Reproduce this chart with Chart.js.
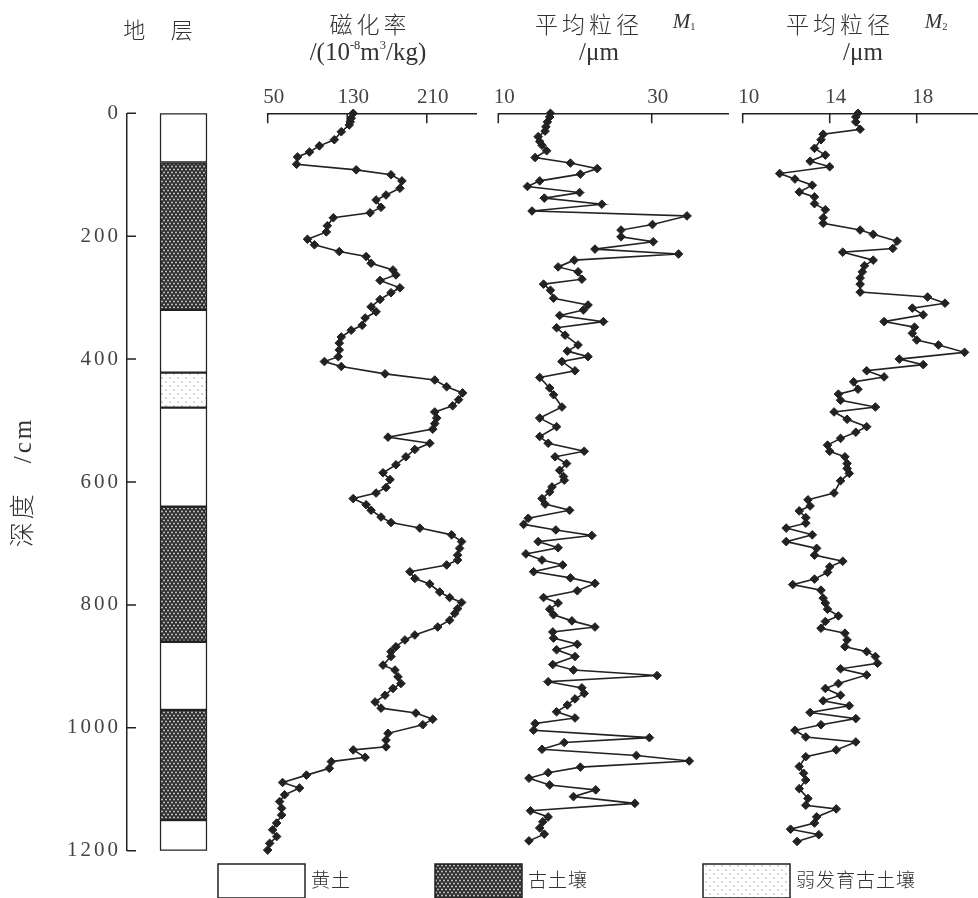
<!DOCTYPE html>
<html>
<head>
<meta charset="utf-8">
<script src="https://cdn.jsdelivr.net/npm/chart.js@4.4.1/dist/chart.umd.min.js"></script>
<style>
  body { margin: 0; width: 978px; height: 898px; overflow: hidden; background: #fff; }
  #wrap { position: relative; width: 978px; height: 898px; }
  canvas { position: absolute; left: 0; top: 0; }
  .hd { position: absolute; transform: translate(-50%, -50%); white-space: nowrap; color: #333;
        font-family: 'Liberation Serif', 'Noto Sans CJK SC', serif; font-weight: 300; }
  .hd sup { font-size: 0.5em; vertical-align: 0.9em; line-height: 0; }
  .hd sub { font-size: 0.5em; vertical-align: -0.2em; line-height: 0; }
</style>
</head>
<body>
<div id="wrap">
  <canvas id="strat" width="990" height="898"></canvas>
  <canvas id="mag" width="990" height="898"></canvas>
  <canvas id="m1" width="990" height="898"></canvas>
  <canvas id="m2" width="990" height="898"></canvas>

  <div class="hd" style="left:163px;top:28px;font-size:22px;letter-spacing:10px">地 层</div>
  <div class="hd" style="left:370px;top:23px;font-size:23px;letter-spacing:4px">磁化率</div>
  <div class="hd" style="left:368px;top:52px;font-size:25px">/(10<sup>-8</sup>m<sup>3</sup>/kg)</div>
  <div class="hd" style="left:589px;top:23px;font-size:23px;letter-spacing:4px">平均粒径</div>
  <div class="hd" style="left:684px;top:21px;font-size:21px"><i>M</i><sub>1</sub></div>
  <div class="hd" style="left:599px;top:52px;font-size:25px">/μm</div>
  <div class="hd" style="left:840px;top:23px;font-size:23px;letter-spacing:4px">平均粒径</div>
  <div class="hd" style="left:936px;top:21px;font-size:21px"><i>M</i><sub>2</sub></div>
  <div class="hd" style="left:863px;top:52px;font-size:25px">/μm</div>
</div>
<script>
// depth axis
const depthTicks = [0, 200, 400, 600, 800, 1000, 1200];

// stratigraphic column (cm)
const layerTops    = [0, 80, 320, 422, 479, 640, 860, 971, 1150];
const layerBottoms = [80, 320, 422, 479, 640, 860, 971, 1150, 1200];
const layerTypes   = ['loess', 'paleosol', 'loess', 'weak', 'loess', 'paleosol', 'loess', 'paleosol', 'loess'];
const legendTypes  = ['loess', 'paleosol', 'weak'];
const legendLabels = ['黄土', '古土壤', '弱发育古土壤'];

// magnetic susceptibility (10^-8 m3/kg)
const magTicks = [50, 130, 210];
const magDepth = [0, 8, 14, 19, 30, 43, 53, 63, 71, 83, 92, 100, 110, 122, 133, 141, 153, 162, 170, 183,
  193, 205, 214, 225, 233, 244, 255, 263, 272, 284, 292, 303, 315, 323, 333, 345, 353, 364, 374, 385,
  396, 404, 412, 424, 434, 445, 455, 466, 476, 486, 496, 505, 514, 527, 537, 547, 559, 572, 585, 596,
  609, 618, 627, 637, 646, 657, 666, 675, 686, 697, 708, 719, 727, 735, 746, 757, 766, 779, 788, 796,
  806, 814, 825, 836, 849, 857, 868, 876, 884, 898, 906, 917, 928, 936, 947, 958, 968, 976, 986, 995,
  1009, 1020, 1031, 1036, 1048, 1055, 1066, 1077, 1089, 1098, 1109, 1120, 1131, 1142, 1155, 1166, 1177, 1188, 1199];
const magValues = [136, 134, 133, 132, 124, 117, 102, 92, 80, 79, 139, 174, 185, 183, 169, 159, 164, 153, 116, 110,
  109, 90, 97, 122, 149, 154, 176, 179, 163, 183, 174, 163, 154, 159, 148, 145, 134, 124, 122, 122,
  121, 107, 124, 168, 218, 230, 246, 242, 236, 218, 220, 218, 216, 171, 213, 198, 189, 179, 166, 173,
  169, 159, 136, 149, 154, 164, 174, 203, 235, 245, 243, 241, 241, 230, 193, 198, 213, 223, 233, 245,
  241, 238, 233, 221, 198, 188, 179, 174, 174, 166, 178, 181, 184, 176, 168, 158, 164, 199, 216, 206,
  171, 169, 169, 136, 148, 114, 112, 89, 65, 82, 67, 62, 64, 64, 59, 55, 59, 52, 50];

// mean grain size M1 (um)
const m1Ticks = [10, 30];
const m1Depth = [0, 6, 14, 22, 29, 38, 46, 52, 61, 72, 81, 90, 99, 110, 119, 129, 138, 148, 159, 167,
  181, 190, 201, 209, 221, 229, 239, 250, 258, 270, 278, 288, 301, 312, 320, 329, 339, 349, 361, 377,
  387, 396, 404, 419, 430, 447, 458, 478, 496, 510, 526, 537, 550, 559, 570, 581, 591, 597, 608, 616,
  627, 636, 646, 659, 669, 678, 687, 697, 707, 717, 727, 735, 746, 756, 765, 777, 788, 797, 807, 816,
  826, 836, 844, 854, 864, 873, 884, 897, 906, 915, 925, 935, 944, 953, 963, 974, 984, 993, 1004, 1016,
  1024, 1035, 1045, 1054, 1064, 1073, 1082, 1093, 1101, 1112, 1123, 1135, 1145, 1153, 1163, 1173, 1184];
const m1Values = [16.8, 16.7, 16.4, 16.2, 16.1, 15.2, 15.4, 15.7, 16.3, 14.8, 19.4, 22.9, 20.7, 15.4, 13.8, 20.6, 16.0, 23.5, 14.4, 34.6,
  30.1, 26.0, 26.0, 30.2, 22.6, 33.5, 19.9, 17.8, 20.4, 20.9, 15.9, 16.8, 17.2, 21.7, 21.1, 18.0, 23.7, 17.6, 18.7, 20.4,
  19.0, 21.7, 18.3, 20.0, 15.4, 16.7, 17.2, 18.3, 15.4, 17.6, 15.4, 16.5, 21.2, 17.4, 18.9, 18.0, 18.5, 18.6, 17.0, 16.7,
  15.7, 16.1, 19.3, 13.9, 13.3, 17.5, 22.2, 15.2, 17.8, 13.6, 15.7, 18.4, 14.6, 19.4, 22.6, 20.3, 15.9, 17.8, 16.7, 17.2,
  19.6, 22.6, 17.1, 17.2, 20.3, 17.6, 20.0, 17.1, 19.8, 30.7, 16.5, 20.9, 21.2, 20.0, 19.0, 17.6, 20.0, 14.8, 14.6, 29.7,
  18.6, 15.7, 28.0, 34.9, 20.7, 16.5, 14.0, 16.7, 22.7, 19.8, 27.8, 14.2, 16.5, 15.8, 15.4, 16.0, 14.0];

// mean grain size M2 (um)
const m2Ticks = [10, 14, 18];
const m2Depth = [0, 6, 14, 26, 34, 43, 57, 68, 78, 87, 98, 107, 117, 128, 136, 147, 157, 170, 179, 190,
  197, 208, 220, 226, 239, 248, 258, 268, 278, 291, 299, 309, 317, 328, 339, 348, 358, 369, 377, 389,
  400, 409, 419, 429, 437, 449, 457, 467, 478, 486, 498, 510, 519, 529, 540, 550, 559, 570, 578, 586,
  598, 618, 629, 639, 647, 658, 667, 675, 686, 697, 708, 719, 729, 738, 747, 758, 767, 776, 789, 797,
  807, 818, 827, 838, 846, 857, 868, 876, 884, 895, 904, 914, 928, 936, 947, 956, 964, 975, 985, 995,
  1004, 1015, 1023, 1036, 1047, 1063, 1074, 1085, 1099, 1115, 1126, 1132, 1145, 1155, 1165, 1174, 1185];
const m2Values = [15.3, 15.2, 15.2, 15.4, 13.7, 13.6, 13.3, 13.8, 13.1, 14.0, 11.7, 12.4, 13.2, 12.6, 13.3, 13.3, 13.8, 13.7, 13.7, 15.4,
  16.0, 17.1, 16.9, 14.6, 16.0, 15.6, 15.5, 15.4, 15.4, 15.4, 18.5, 19.3, 17.8, 18.3, 16.5, 17.9, 17.8, 18.0, 19.0, 20.2,
  17.2, 18.3, 15.7, 16.5, 15.1, 15.3, 14.4, 14.5, 16.1, 14.2, 14.8, 15.7, 15.2, 14.5, 13.9, 14.0, 14.7, 14.8, 14.8, 14.9,
  14.5, 14.2, 13.0, 13.1, 12.6, 12.9, 12.9, 12.0, 13.2, 12.0, 13.4, 13.3, 14.6, 14.0, 13.9, 13.3, 12.3, 13.6, 13.7, 13.8,
  13.9, 14.4, 13.8, 13.6, 14.7, 14.8, 14.7, 15.7, 16.1, 16.2, 14.5, 15.7, 14.4, 13.8, 14.5, 13.7, 14.9, 13.1, 15.2, 13.6,
  12.4, 12.9, 15.2, 14.3, 12.9, 12.6, 12.8, 12.9, 12.6, 13.0, 12.9, 14.3, 13.4, 13.3, 12.2, 13.5, 12.5];

const W = 990, H = 898;
const plotTop = 113.3, plotBottom = 850.7;
const serif = "'Liberation Serif', 'DejaVu Serif', serif";
const cjk = "'Liberation Serif', 'Noto Sans CJK SC', sans-serif";
const ink = '#222', textGrey = '#444';

Chart.defaults.animation = false;
Chart.defaults.font.family = serif;
Chart.defaults.color = textGrey;

function makePattern(bg, dot, w, h, dots, r) {
  const c = document.createElement('canvas');
  c.width = w; c.height = h;
  const g = c.getContext('2d');
  g.fillStyle = bg;
  g.fillRect(0, 0, w, h);
  g.fillStyle = dot;
  dots.forEach(function (p) {
    g.beginPath(); g.arc(p[0], p[1], r, 0, Math.PI * 2); g.fill();
  });
  return g.createPattern(c, 'repeat');
}

const fills = {
  loess: '#ffffff',
  paleosol: makePattern('#2e2e2e', '#d8d8d8', 8, 6, [[2, 1.5], [6, 1.5], [0, 4.5], [4, 4.5], [8, 4.5]], 0.9),
  weak: makePattern('#ffffff', '#8a8a8a', 8, 8, [[2, 2], [6, 6]], 0.7)
};

// short tick marks pointing into the plot
const tickMarks = {
  id: 'tickMarks',
  beforeDatasetsDraw(chart, args, opts) {
    const s = chart.scales[opts.axis];
    const a = chart.chartArea;
    const ctx = chart.ctx;
    ctx.save();
    ctx.strokeStyle = ink;
    ctx.lineWidth = 1.5;
    ctx.beginPath();
    opts.values.forEach(function (v) {
      const p = s.getPixelForValue(v);
      if (opts.axis === 'x') { ctx.moveTo(p, a.top); ctx.lineTo(p, a.top + opts.length); }
      else { ctx.moveTo(a.left, p); ctx.lineTo(a.left + opts.length, p); }
    });
    ctx.stroke();
    ctx.restore();
  }
};

const spacedText = {
  id: 'spacedText',
  beforeDraw(chart, args, opts) { chart.ctx.letterSpacing = opts.spacing; }
};

const layerLegend = {
  id: 'layerLegend',
  afterDraw(chart) {
    const ctx = chart.ctx;
    const boxX = [218, 435, 703];
    ctx.save();
    ctx.letterSpacing = '1px';
    legendTypes.forEach(function (t, i) {
      ctx.fillStyle = fills[t];
      ctx.fillRect(boxX[i], 864, 87, 34);
      ctx.strokeStyle = ink;
      ctx.lineWidth = 1.5;
      ctx.strokeRect(boxX[i], 864, 87, 34);
      ctx.fillStyle = '#333';
      ctx.font = '300 19px ' + cjk;
      ctx.textBaseline = 'middle';
      ctx.fillText(legendLabels[i], boxX[i] + 93, 882);
    });
    ctx.restore();
  }
};

new Chart(document.getElementById('strat'), {
  type: 'bar',
  data: {
    labels: ['地层'],
    datasets: layerTops.map(function (t, i) {
      return {
        data: [[t, layerBottoms[i]]],
        backgroundColor: fills[layerTypes[i]],
        borderColor: ink,
        borderWidth: 1.5,
        borderSkipped: false,
        barThickness: 47,
        grouped: false
      };
    })
  },
  options: {
    responsive: false,
    layout: { padding: { left: 0, right: W - 240, top: plotTop, bottom: H - plotBottom } },
    plugins: {
      legend: { display: false },
      tooltip: { enabled: false },
      tickMarks: { axis: 'y', values: depthTicks, length: 9 },
      spacedText: { spacing: '3px' }
    },
    scales: {
      x: { display: false },
      y: {
        min: 0, max: 1200, reverse: true,
        afterBuildTicks: function (s) { s.ticks = depthTicks.map(function (v) { return { value: v }; }); },
        afterFit: function (s) { s.width = 127; },
        grid: { display: false, drawTicks: false },
        border: { display: true, color: ink, width: 1.5 },
        ticks: { padding: 6, font: { size: 21 }, color: textGrey, callback: function (v) { return String(v); } },
        title: {
          display: true, text: '深度　/cm', color: '#333',
          font: { family: cjk, size: 25, weight: 300 },
          padding: { top: 9, bottom: 0 }
        }
      }
    }
  },
  plugins: [tickMarks, spacedText, layerLegend]
});

function profile(id, depth, values, ticks, min, max, left, right) {
  return new Chart(document.getElementById(id), {
    type: 'line',
    data: {
      datasets: [{
        data: depth.map(function (d, i) { return { x: values[i], y: d }; }),
        borderColor: ink,
        borderWidth: 1.6,
        pointStyle: 'rectRot',
        pointRadius: 4.3,
        pointBackgroundColor: ink,
        pointBorderColor: ink,
        pointBorderWidth: 1,
        fill: false,
        tension: 0,
        clip: false
      }]
    },
    options: {
      responsive: false,
      layout: { padding: { left: left, right: W - right, top: 0, bottom: H - plotBottom } },
      plugins: {
        legend: { display: false },
        tooltip: { enabled: false },
        tickMarks: { axis: 'x', values: ticks, length: 10 }
      },
      scales: {
        x: {
          type: 'linear', position: 'top', min: min, max: max,
          afterBuildTicks: function (s) { s.ticks = ticks.map(function (v) { return { value: v }; }); },
          afterFit: function (s) { s.height = plotTop; },
          grid: { display: false, drawTicks: false },
          border: { display: true, color: ink, width: 1.5 },
          ticks: { padding: 3, labelOffset: 6, autoSkip: false, maxRotation: 0, font: { size: 21 }, color: textGrey,
                   callback: function (v) { return String(v); } }
        },
        y: { type: 'linear', display: false, min: 0, max: 1200, reverse: true }
      }
    },
    plugins: [tickMarks]
  });
}

profile('mag', magDepth, magValues, magTicks, 50, 260, 267.7, 476.5);
profile('m1', m1Depth, m1Values, m1Ticks, 10, 40, 498.3, 728.4);
profile('m2', m2Depth, m2Values, m2Ticks, 10, 21, 742.7, 742.7 + 11 * 21.75);
</script>
</body>
</html>
